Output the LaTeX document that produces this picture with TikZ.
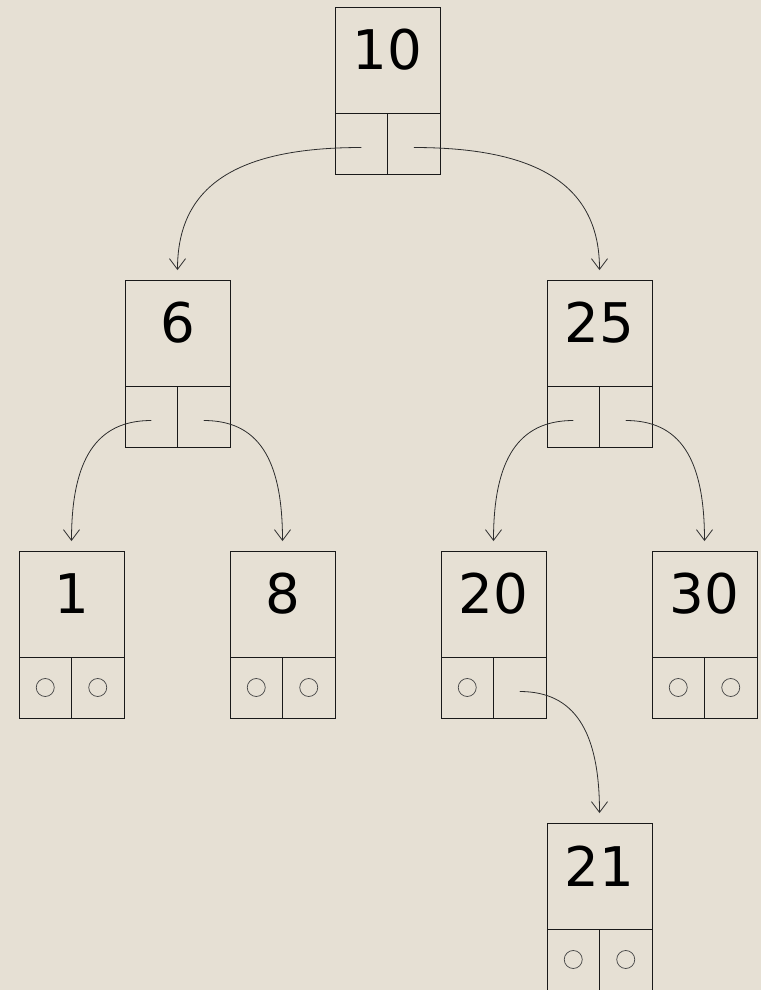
\documentclass[tikz,border=0pt]{standalone}
\usepackage{fontspec}
\setmainfont{DejaVu Sans}
\usetikzlibrary{arrows.meta}
\definecolor{bgc}{RGB}{230,224,212}
\definecolor{linec}{RGB}{25,25,25}
\definecolor{curvec}{RGB}{45,45,45}
\definecolor{nullcol}{RGB}{70,70,70}
\tikzset{
  topbox/.style={draw=linec, line width=0.75pt, minimum width=78.75pt, minimum height=79.5pt, inner sep=0pt, outer sep=0pt, anchor=north west},
  cellbox/.style={draw=linec, line width=0.75pt, minimum width=39.375pt, minimum height=45.75pt, inner sep=0pt, outer sep=0pt},
  numtext/.style={inner sep=0pt, font=\fontsize{41}{49}\selectfont, text=black},
  nullmark/.style={draw=nullcol, line width=0.55pt},
  link/.style={draw=curvec, line width=0.6pt, -{Straight Barb[length=8pt,width=12pt]}}
}
\newcommand{\treenode}[4]{%
  \node[topbox] (#1) at (#2,#3) {};
  \node[cellbox, anchor=north west] (#1-l) at (#1.south west) {};
  \node[cellbox, anchor=north east] (#1-r) at (#1.south east) {};
  \node[numtext] (#1-t) at ([yshift=7.5pt]#1.center) {#4};
}
\newcommand{\nullin}[1]{\draw[nullmark] (#1.center) circle[radius=6.75pt];}
\begin{document}
\begin{tikzpicture}[x=0.75pt,y=-0.75pt]
\fill[bgc] (0,0) rectangle (761,990);
\useasboundingbox (0,0) rectangle (761,990);
\treenode{n10}{335}{7}{10}
\treenode{n6}{125}{280}{6}
\treenode{n25}{547}{280}{25}
\treenode{n1}{19}{551}{1}
\treenode{n8}{230}{551}{8}
\treenode{n20}{441}{551}{20}
\treenode{n30}{652}{551}{30}
\treenode{n21}{547}{823}{21}
\nullin{n1-l}\nullin{n1-r}
\nullin{n8-l}\nullin{n8-r}
\nullin{n20-l}
\nullin{n30-l}\nullin{n30-r}
\nullin{n21-l}\nullin{n21-r}
\draw[link] ([yshift=-3pt]n10-l.center) .. controls +(-125,0) and +(0,-84) .. ([yshift=7.5pt]n6.north);
\draw[link] ([yshift=-3pt]n10-r.center) .. controls +(125,0) and +(0,-84) .. ([yshift=7.5pt]n25.north);
\draw[link] ([yshift=-3pt]n6-l.center) .. controls +(-54,0) and +(0,-83) .. ([yshift=7.5pt]n1.north);
\draw[link] ([yshift=-3pt]n6-r.center) .. controls +(54,0) and +(0,-83) .. ([yshift=7.5pt]n8.north);
\draw[link] ([yshift=-3pt]n25-l.center) .. controls +(-54,0) and +(0,-83) .. ([yshift=7.5pt]n20.north);
\draw[link] ([yshift=-3pt]n25-r.center) .. controls +(54,0) and +(0,-83) .. ([yshift=7.5pt]n30.north);
\draw[link] ([yshift=-3pt]n20-r.center) .. controls +(54,0) and +(0,-83) .. ([yshift=7.5pt]n21.north);
\end{tikzpicture}
\end{document}
